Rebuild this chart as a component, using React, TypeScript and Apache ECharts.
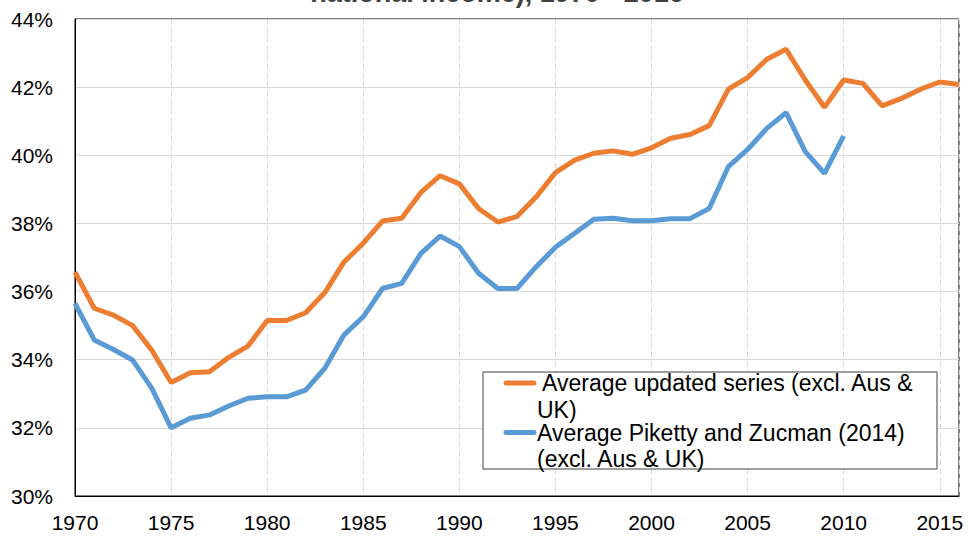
import React, { useEffect, useRef } from "react";
import * as echarts from "echarts";

const years: number[] = [];
for (let y = 1970; y <= 2016; y++) years.push(y);

const updatedSeries = [
  36.57, 35.51, 35.31, 35.0, 34.28, 33.33, 33.62, 33.65, 34.07, 34.4,
  35.15, 35.15, 35.38, 35.97, 36.87, 37.42, 38.07, 38.15, 38.91, 39.4,
  39.16, 38.44, 38.04, 38.2, 38.78, 39.49, 39.86, 40.06, 40.13, 40.03,
  40.22, 40.5, 40.61, 40.87, 41.94, 42.28, 42.82, 43.11, 42.21, 41.41,
  42.21, 42.11, 41.45, 41.67, 41.94, 42.15, 42.08,
];

const pikettyZucman = [
  35.65, 34.58, 34.3, 33.99, 33.16, 32.0, 32.28, 32.38, 32.64, 32.87,
  32.91, 32.91, 33.11, 33.75, 34.73, 35.26, 36.09, 36.24, 37.12, 37.63,
  37.32, 36.54, 36.09, 36.09, 36.73, 37.3, 37.71, 38.12, 38.15, 38.08,
  38.08, 38.14, 38.14, 38.44, 39.67, 40.17, 40.79, 41.25, 40.11, 39.47,
  40.57,
];

const seriesNames = [
  "Average updated series (excl. Aus & UK)",
  "Average Piketty and Zucman (2014) (excl. Aus & UK)",
];
const legendLines = [
  [" Average updated series (excl. Aus &", "UK)"],
  ["Average Piketty and Zucman (2014)", "(excl. Aus & UK)"],
];
const titleTail = "national income), 1970 - 2016";
const colors = ["#ED7D31", "#5B9BD5"];

const FONT = "'Liberation Sans', Arial, sans-serif";

export default function App() {
  const ref = useRef<HTMLDivElement>(null);
  useEffect(() => {
    document.body.style.margin = "0";
    if (!ref.current) return;
    const chart = echarts.init(ref.current, undefined, { renderer: "svg" });
    const pair = (vals: number[]) => vals.map((v, i) => [years[i], v]);
    const legendX = 483;
    const legendY = 372;
    chart.setOption({
      animation: false,
      backgroundColor: "#fff",
      textStyle: { fontFamily: FONT },
      grid: {
        left: 75,
        top: 19,
        right: 10,
        bottom: 41,
        show: true,
        borderColor: "#000",
        borderWidth: 1,
        containLabel: false,
      },
      xAxis: {
        type: "value",
        min: 1970,
        max: 2016,
        interval: 5,
        axisLine: { show: true, lineStyle: { color: "#000", width: 1 } },
        axisTick: { show: false },
        axisLabel: {
          color: "#000",
          fontSize: 21,
          fontFamily: FONT,
          margin: 16,
          showMaxLabel: false,
          formatter: (v: number) => String(v),
        },
        splitLine: {
          show: true,
          lineStyle: { color: "#d9d9d9", type: [5, 4], width: 1 },
        },
      },
      yAxis: {
        type: "value",
        min: 30,
        max: 44,
        interval: 2,
        axisLine: { show: true, lineStyle: { color: "#000", width: 1 } },
        axisTick: { show: false },
        axisLabel: {
          color: "#000",
          fontSize: 21,
          fontFamily: FONT,
          margin: 22,
          formatter: "{value}%",
        },
        splitLine: { show: true, lineStyle: { color: "#d9d9d9", width: 1 } },
      },
      series: [
        {
          name: seriesNames[1],
          type: "line",
          data: pair(pikettyZucman),
          symbol: "none",
          lineStyle: { color: colors[1], width: 5 },
          z: 3,
        },
        {
          name: seriesNames[0],
          type: "line",
          data: pair(updatedSeries),
          symbol: "none",
          lineStyle: { color: colors[0], width: 5 },
          z: 4,
        },
      ],
      graphic: [
        {
          type: "text",
          x: 497,
          y: 6,
          z: 10,
          style: {
            text: titleTail,
            fill: "#404040",
            font: `bold 27px ${FONT}`,
            align: "center",
            verticalAlign: "bottom",
          },
        },
        {
          type: "rect",
          shape: { x: legendX, y: legendY, width: 454, height: 97 },
          style: { fill: "#fff", stroke: "#404040", lineWidth: 1 },
          z: 20,
        },
        {
          type: "line",
          shape: { x1: 506, y1: 383, x2: 534, y2: 383 },
          style: { stroke: colors[0], lineWidth: 5, lineCap: "round" },
          z: 21,
        },
        {
          type: "line",
          shape: { x1: 506, y1: 432.5, x2: 534, y2: 432.5 },
          style: { stroke: colors[1], lineWidth: 5, lineCap: "round" },
          z: 21,
        },
        ...[
          [legendLines[0][0], 382.5],
          [legendLines[0][1], 409.5],
          [legendLines[1][0], 432.5],
          [legendLines[1][1], 458.5],
        ].map(([t, y]) => ({
          type: "text",
          z: 22,
          x: 537,
          y: y as number,
          style: {
            text: t as string,
            fill: "#000",
            font: `23px ${FONT}`,
            verticalAlign: "middle",
          },
        })),
      ],
    });
    return () => chart.dispose();
  }, []);
  return <div ref={ref} style={{ width: 969, height: 537 }} />;
}
